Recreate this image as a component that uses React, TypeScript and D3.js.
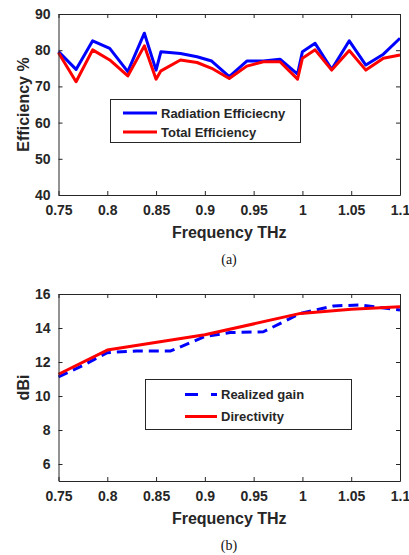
import * as d3 from "d3";
import { useRef, useEffect } from "react";

// (a) efficiency
const effFreq = [0.75, 0.768, 0.785, 0.8025, 0.821, 0.838, 0.85, 0.855, 0.875, 0.892, 0.907, 0.925, 0.943, 0.96, 0.977, 0.995, 1.0, 1.013, 1.03, 1.048, 1.065, 1.083, 1.1];
const radEff = [79.6, 74.7, 82.6, 80.5, 74.1, 84.7, 74.5, 79.6, 79.1, 78.2, 77.0, 72.7, 77.0, 77.0, 77.5, 73.4, 79.6, 81.9, 74.7, 82.6, 75.9, 78.9, 83.3];
const totEff = [79.3, 71.3, 80.1, 77.3, 72.9, 81.2, 72.0, 74.3, 77.3, 76.6, 75.0, 72.2, 75.6, 76.8, 76.8, 72.0, 77.8, 80.1, 74.5, 79.9, 74.5, 77.8, 78.7];

// (b) gain
const gainFreq = [0.75, 0.775, 0.8, 0.83, 0.865, 0.9, 0.926, 0.96, 0.998, 1.032, 1.059, 1.1];
const realizedGain = [11.13, 11.8, 12.55, 12.65, 12.65, 13.5, 13.73, 13.78, 14.86, 15.3, 15.35, 15.06];
const dirFreq = [0.75, 0.8, 0.9, 0.998, 1.05, 1.1];
const directivity = [11.28, 12.7, 13.6, 14.86, 15.1, 15.25];

const xTicks = [0.75, 0.8, 0.85, 0.9, 0.95, 1, 1.05, 1.1];
const effTicks = [40, 50, 60, 70, 80, 90];
const gainTicks = [6, 8, 10, 12, 14, 16];

const FONT = "'Liberation Sans', Arial, sans-serif";
const AXIS = "#262626";

const App = () => {
  const svgRef = useRef(null);

  useEffect(() => {
    const svgEl = d3.select(svgRef.current);
    svgEl.selectAll("*").remove();

    const left = 58.5, right = 400;

    const drawPanel = (opts) => {
      const { top, bottom, yDomain, yTicks, yTitle, caption, series, legend } = opts;
      const x = d3.scaleLinear().domain([0.75, 1.1]).range([left, right]);
      const y = d3.scaleLinear().domain(yDomain).range([bottom, top]);
      const g = svgEl.append("g");

      // plot lines
      series.forEach((s) => {
        const line = d3.line().x((d) => x(d[0])).y((d) => y(d[1]));
        g.append("path")
          .datum(s.xs.map((v, i) => [v, s.ys[i]]))
          .attr("fill", "none")
          .attr("stroke", s.color)
          .attr("stroke-width", 3)
          .attr("stroke-linejoin", "round")
          .attr("stroke-dasharray", s.dash || null)
          .attr("d", line);
      });

      // axes box with inward ticks
      const axB = g.append("g").attr("transform", `translate(0,${bottom})`)
        .call(d3.axisBottom(x).tickValues(xTicks).tickSizeInner(-4).tickSizeOuter(0).tickPadding(10).tickFormat((d) => String(d)));
      const axT = g.append("g").attr("transform", `translate(0,${top})`)
        .call(d3.axisTop(x).tickValues(xTicks).tickSizeInner(-4).tickSizeOuter(0).tickFormat(() => ""));
      const axL = g.append("g").attr("transform", `translate(${left},0)`)
        .call(d3.axisLeft(y).tickValues(yTicks).tickSizeInner(-4).tickSizeOuter(0).tickPadding(8));
      const axR = g.append("g").attr("transform", `translate(${right},0)`)
        .call(d3.axisRight(y).tickValues(yTicks).tickSizeInner(-4).tickSizeOuter(0).tickFormat(() => ""));
      [axB, axT, axL, axR].forEach((a) => {
        a.select(".domain").attr("stroke", AXIS).attr("stroke-width", 1);
        a.selectAll("line").attr("stroke", AXIS);
        a.selectAll("text")
          .attr("fill", AXIS)
          .attr("font-family", FONT)
          .attr("font-weight", "bold")
          .attr("font-size", 14);
      });

      // titles
      g.append("text")
        .attr("x", (left + right) / 2)
        .attr("y", bottom + 43)
        .attr("text-anchor", "middle")
        .attr("font-family", FONT)
        .attr("font-weight", "bold")
        .attr("font-size", 16)
        .attr("fill", AXIS)
        .text("Frequency THz");
      g.append("text")
        .attr("transform", `translate(29,${(top + bottom) / 2}) rotate(-90)`)
        .attr("text-anchor", "middle")
        .attr("font-family", FONT)
        .attr("font-weight", "bold")
        .attr("font-size", 16)
        .attr("fill", AXIS)
        .text(yTitle);
      g.append("text")
        .attr("x", 229)
        .attr("y", bottom + 69)
        .attr("text-anchor", "middle")
        .attr("font-family", "'Liberation Serif', 'Times New Roman', serif")
        .attr("font-size", 14)
        .attr("fill", "#111")
        .text(caption);

      // legend
      const lg = g.append("g");
      lg.append("rect")
        .attr("x", legend.x).attr("y", legend.y)
        .attr("width", legend.w).attr("height", legend.h)
        .attr("fill", "white").attr("stroke", AXIS).attr("stroke-width", 1);
      series.forEach((s, i) => {
        const ly = legend.y + legend.first + i * legend.step;
        lg.append("line")
          .attr("x1", legend.lx1).attr("x2", legend.lx2)
          .attr("y1", ly).attr("y2", ly)
          .attr("stroke", s.color).attr("stroke-width", 3)
          .attr("stroke-dasharray", s.dash ? "13,13" : null);
        lg.append("text")
          .attr("x", legend.lx2 + 4).attr("y", ly)
          .attr("dy", "0.35em")
          .attr("font-family", FONT)
          .attr("font-weight", "bold")
          .attr("font-size", 13)
          .attr("fill", AXIS)
          .text(s.name);
      });
    };

    drawPanel({
      top: 14, bottom: 195,
      yDomain: [40, 90], yTicks: effTicks,
      yTitle: "Efficiency %", caption: "(a)",
      series: [
        { name: "Radiation Efficiecny", xs: effFreq, ys: radEff, color: "#0000ff" },
        { name: "Total Efficiency", xs: effFreq, ys: totEff, color: "#ff0000" },
      ],
      legend: { x: 110.5, y: 99.5, w: 190, h: 43, first: 13.5, step: 19, lx1: 123, lx2: 157 },
    });

    drawPanel({
      top: 294, bottom: 481,
      yDomain: [5, 16], yTicks: gainTicks,
      yTitle: "dBi", caption: "(b)",
      series: [
        { name: "Realized gain", xs: gainFreq, ys: realizedGain, color: "#0000ff", dash: "10,6" },
        { name: "Directivity", xs: dirFreq, ys: directivity, color: "#ff0000" },
      ],
      legend: { x: 145.5, y: 379.5, w: 206, h: 50, first: 15, step: 22, lx1: 185, lx2: 217 },
    });
  }, []);

  return (
    <svg ref={svgRef} width={409} height={555} style={{ position: "absolute", left: 0, top: 0, background: "white" }} />
  );
};

export default App;
